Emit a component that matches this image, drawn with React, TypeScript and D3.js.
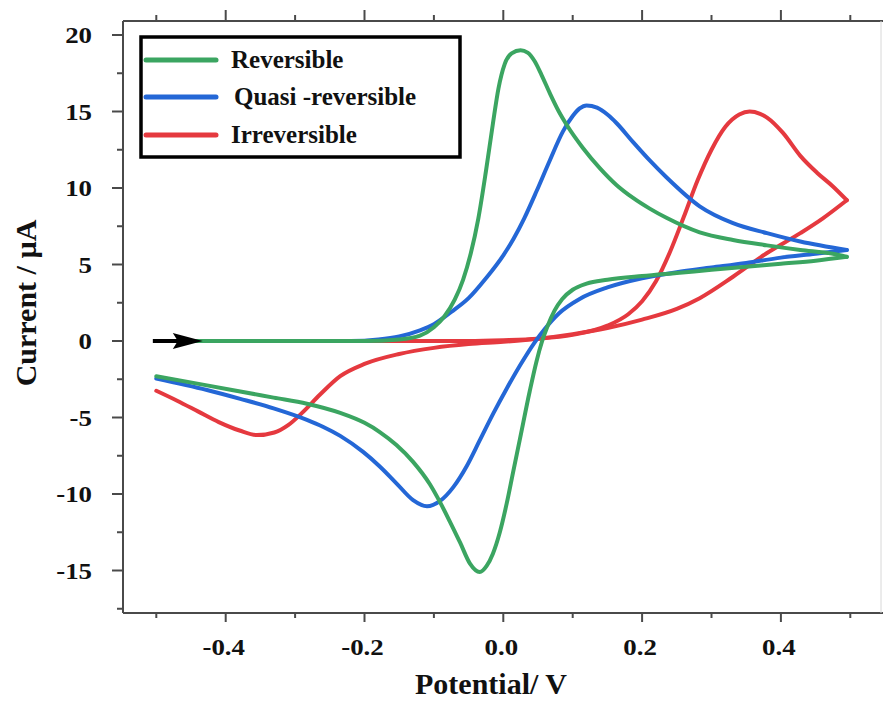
import React from "react";
import * as d3 from "d3";

// ---------- data ----------
const xTicksMajor = [-0.4, -0.2, 0.0, 0.2, 0.4];
const xTicksMinor = [-0.5, -0.3, -0.1, 0.1, 0.3, 0.5];
const yTicksMajor = [-15, -10, -5, 0, 5, 10, 15, 20];
const yTicksMinor = [-17.5, -12.5, -7.5, -2.5, 2.5, 7.5, 12.5, 17.5];

const seriesNames = ["Reversible", "Quasi -reversible", "Irreversible"];
const seriesColors = ["#3BA561", "#2467D6", "#E5393F"];

// forward sweeps (E increasing)
const greenFwd: [number, number][] = [
  [-0.5, 0], [-0.2, 0], [-0.15, 0.1], [-0.12, 0.35], [-0.1, 0.9], [-0.085, 1.6], [-0.07, 2.7],
  [-0.058, 4.0], [-0.047, 5.7], [-0.036, 8.0], [-0.025, 11.1], [-0.015, 14.2], [-0.007, 16.5],
  [0.002, 18.1], [0.012, 18.8], [0.025, 19.0], [0.035, 18.85], [0.045, 18.3], [0.055, 17.4],
  [0.067, 16.2], [0.08, 15.0], [0.091, 14.15], [0.115, 12.6], [0.139, 11.3], [0.163, 10.2],
  [0.187, 9.35], [0.211, 8.65], [0.235, 8.05], [0.283, 7.1], [0.331, 6.6], [0.38, 6.25],
  [0.428, 5.95], [0.475, 5.7], [0.495, 5.5],
];
const blueFwd: [number, number][] = [
  [-0.5, 0], [-0.22, 0], [-0.18, 0.1], [-0.15, 0.3], [-0.12, 0.7], [-0.1, 1.1], [-0.075, 1.9],
  [-0.05, 2.8], [-0.025, 4.1], [0, 5.6], [0.015, 6.7], [0.03, 8.0], [0.048, 9.8], [0.067, 11.8],
  [0.086, 13.7], [0.1, 14.7], [0.11, 15.2], [0.12, 15.4], [0.135, 15.25], [0.15, 14.8],
  [0.163, 14.25], [0.187, 13.0], [0.211, 11.8], [0.235, 10.7], [0.283, 8.8], [0.331, 7.7],
  [0.38, 7.05], [0.428, 6.5], [0.495, 5.95],
];
const redFwd: [number, number][] = [
  [-0.5, 0], [-0.05, 0], [0, 0.05], [0.05, 0.15], [0.1, 0.4], [0.15, 1.0], [0.18, 1.75],
  [0.2, 2.6], [0.22, 3.9], [0.24, 5.8], [0.26, 8.1], [0.28, 10.5], [0.3, 12.5], [0.32, 14.0],
  [0.34, 14.8], [0.355, 15.0], [0.37, 14.85], [0.38, 14.6], [0.403, 13.6], [0.428, 12.1],
  [0.452, 11.0], [0.475, 10.1], [0.495, 9.2],
];

// reverse sweeps (E decreasing)
const greenRev: [number, number][] = [
  [0.495, 5.5], [0.45, 5.25], [0.4, 5.05], [0.35, 4.85], [0.3, 4.65], [0.25, 4.45], [0.2, 4.25],
  [0.15, 4.0], [0.12, 3.75], [0.1, 3.35], [0.085, 2.75], [0.074, 2.0], [0.064, 1.0], [0.056, 0.0],
  [0.048, -1.3], [0.038, -3.3], [0.024, -6.4], [0.014, -8.6], [0.005, -10.6], [-0.005, -12.5],
  [-0.015, -13.9], [-0.024, -14.7], [-0.034, -15.1], [-0.048, -14.55], [-0.062, -13.2],
  [-0.077, -11.8], [-0.091, -10.55], [-0.106, -9.35], [-0.13, -7.9], [-0.154, -6.8],
  [-0.178, -5.95], [-0.2, -5.35], [-0.235, -4.7], [-0.283, -4.1], [-0.331, -3.7], [-0.379, -3.3],
  [-0.427, -2.9], [-0.5, -2.3],
];
const blueRev: [number, number][] = [
  [0.495, 5.95], [0.45, 5.7], [0.4, 5.45], [0.35, 5.1], [0.3, 4.8], [0.25, 4.5], [0.2, 4.1],
  [0.15, 3.5], [0.11, 2.75], [0.08, 1.8], [0.06, 0.8], [0.045, -0.1], [0.024, -1.6], [0.005, -3.1],
  [-0.014, -4.7], [-0.034, -6.5], [-0.053, -8.2], [-0.072, -9.55], [-0.091, -10.45], [-0.11, -10.8],
  [-0.13, -10.4], [-0.154, -9.3], [-0.178, -8.2], [-0.202, -7.25], [-0.235, -6.2], [-0.26, -5.6],
  [-0.283, -5.15], [-0.331, -4.4], [-0.379, -3.78], [-0.427, -3.2], [-0.5, -2.45],
];
const redRev: [number, number][] = [
  [0.495, 9.2], [0.46, 8.0], [0.428, 7.05], [0.38, 5.75], [0.331, 4.2], [0.283, 2.8], [0.25, 2.1],
  [0.2, 1.4], [0.15, 0.85], [0.1, 0.45], [0.05, 0.15], [0, -0.05], [-0.05, -0.2], [-0.1, -0.45],
  [-0.15, -0.85], [-0.2, -1.5], [-0.235, -2.3], [-0.264, -3.5], [-0.29, -4.7], [-0.31, -5.5],
  [-0.33, -5.98], [-0.355, -6.15], [-0.38, -5.85], [-0.41, -5.3], [-0.44, -4.6], [-0.47, -3.9],
  [-0.5, -3.25],
];

const arrowStart = -0.505;
const arrowEnd = -0.433;

// ---------- layout ----------
const W = 883;
const H = 702;
const left = 123;
const right = 881;
const top = 21;
const bottom = 613;
const FONT = "'Liberation Serif', 'Times New Roman', Times, serif";

export default function App() {
  const x = d3.scaleLinear().domain([-0.5, 0.5]).range([503.3 - 347, 503.3 + 347]);
  const y = d3.scaleLinear().domain([-15, 20]).range([341 + 15 * 15.3, 341 - 20 * 15.3]);

  const line = d3
    .line<[number, number]>()
    .x((d) => x(d[0]))
    .y((d) => y(d[1]))
    .curve(d3.curveMonotoneX);

  const asc = (a: [number, number][]) => [...a].sort((p, q) => p[0] - q[0]);

  const loops = [
    { fwd: redFwd, rev: redRev, color: seriesColors[2] },
    { fwd: blueFwd, rev: blueRev, color: seriesColors[1] },
    { fwd: greenFwd, rev: greenRev, color: seriesColors[0] },
  ];

  const axisColor = "#4a4a4a";
  const ax0 = x(arrowStart);
  const ax1 = x(arrowEnd);
  const ay = y(0);

  const legendRows = [60, 97, 135];

  return (
    <svg
      width={W}
      height={H}
      style={{ position: "absolute", left: 0, top: 0, background: "#fff" }}
      fontFamily={FONT}
    >
      <rect x={0} y={0} width={W} height={H} fill="#fff" />
      {/* frame */}
      <line x1={left} x2={left} y1={top} y2={bottom} stroke={axisColor} strokeWidth={2} />
      <line x1={left} x2={right + 2} y1={bottom} y2={bottom} stroke={axisColor} strokeWidth={2} />
      <line x1={left} x2={right + 2} y1={top} y2={top} stroke={axisColor} strokeWidth={2} />
      <line x1={right} x2={right} y1={top} y2={bottom} stroke="#d8d8d8" strokeWidth={1} />

      {/* x ticks bottom & top */}
      {xTicksMajor.map((t) => (
        <g key={"xM" + t}>
          <line x1={x(t)} x2={x(t)} y1={bottom} y2={bottom + 9} stroke={axisColor} strokeWidth={2} />
          <line x1={x(t)} x2={x(t)} y1={top} y2={top - 11} stroke={axisColor} strokeWidth={2} />
          <text
            transform={`translate(${x(t) - 2},655) scale(1.12,1)`}
            textAnchor="middle"
            fontSize={24}
            fontWeight="bold"
            fill="#111"
          >
            {t.toFixed(1)}
          </text>
        </g>
      ))}
      {xTicksMinor.map((t) => (
        <g key={"xm" + t}>
          <line x1={x(t)} x2={x(t)} y1={bottom} y2={bottom + 5} stroke={axisColor} strokeWidth={2} />
          <line x1={x(t)} x2={x(t)} y1={top} y2={top - 6} stroke={axisColor} strokeWidth={2} />
        </g>
      ))}

      {/* y ticks */}
      {yTicksMajor.map((t) => (
        <g key={"yM" + t}>
          <line x1={left - 11} x2={left} y1={y(t)} y2={y(t)} stroke={axisColor} strokeWidth={2} />
          <text
            transform={`translate(92,${y(t)}) scale(1.12,1)`}
            textAnchor="end"
            dominantBaseline="central"
            fontSize={24}
            fontWeight="bold"
            fill="#111"
          >
            {t}
          </text>
        </g>
      ))}
      {yTicksMinor.map((t) => (
        <line key={"ym" + t} x1={left - 6} x2={left} y1={y(t)} y2={y(t)} stroke={axisColor} strokeWidth={2} />
      ))}

      {/* axis titles */}
      <text x={491} y={694} textAnchor="middle" fontSize={30} fontWeight="bold" fill="#111">
        Potential/ V
      </text>
      <text
        transform={`translate(36,303) rotate(-90)`}
        textAnchor="middle"
        fontSize={30}
        fontWeight="bold"
        fill="#111"
      >
        Current / µA
      </text>

      {/* curves */}
      {loops.map((l, i) => (
        <g key={i}>
          <path
            d={line(asc(l.fwd)) || ""}
            fill="none"
            stroke={l.color}
            strokeWidth={4}
            strokeLinejoin="round"
            strokeLinecap="round"
          />
          <path
            d={line(asc(l.rev)) || ""}
            fill="none"
            stroke={l.color}
            strokeWidth={4}
            strokeLinejoin="round"
            strokeLinecap="round"
          />
        </g>
      ))}

      {/* arrow */}
      <line x1={ax0} x2={ax1 - 20} y1={ay} y2={ay} stroke="#000" strokeWidth={4} />
      <polygon
        points={`${ax1},${ay} ${ax1 - 30},${ay - 8} ${ax1 - 25},${ay} ${ax1 - 30},${ay + 8}`}
        fill="#000"
      />

      {/* legend */}
      <rect x={141} y={37} width={319} height={120} fill="#fff" stroke="#000" strokeWidth={3.5} />
      {seriesNames.map((n, i) => (
        <g key={n}>
          <line
            x1={146}
            x2={216}
            y1={legendRows[i]}
            y2={legendRows[i]}
            stroke={seriesColors[i]}
            strokeWidth={5}
            strokeLinecap="round"
          />
          <text
            x={i === 1 ? 234 : 231}
            y={legendRows[i] + 8}
            fontSize={25}
            fontWeight="bold"
            fill="#111"
          >
            {n}
          </text>
        </g>
      ))}
    </svg>
  );
}
